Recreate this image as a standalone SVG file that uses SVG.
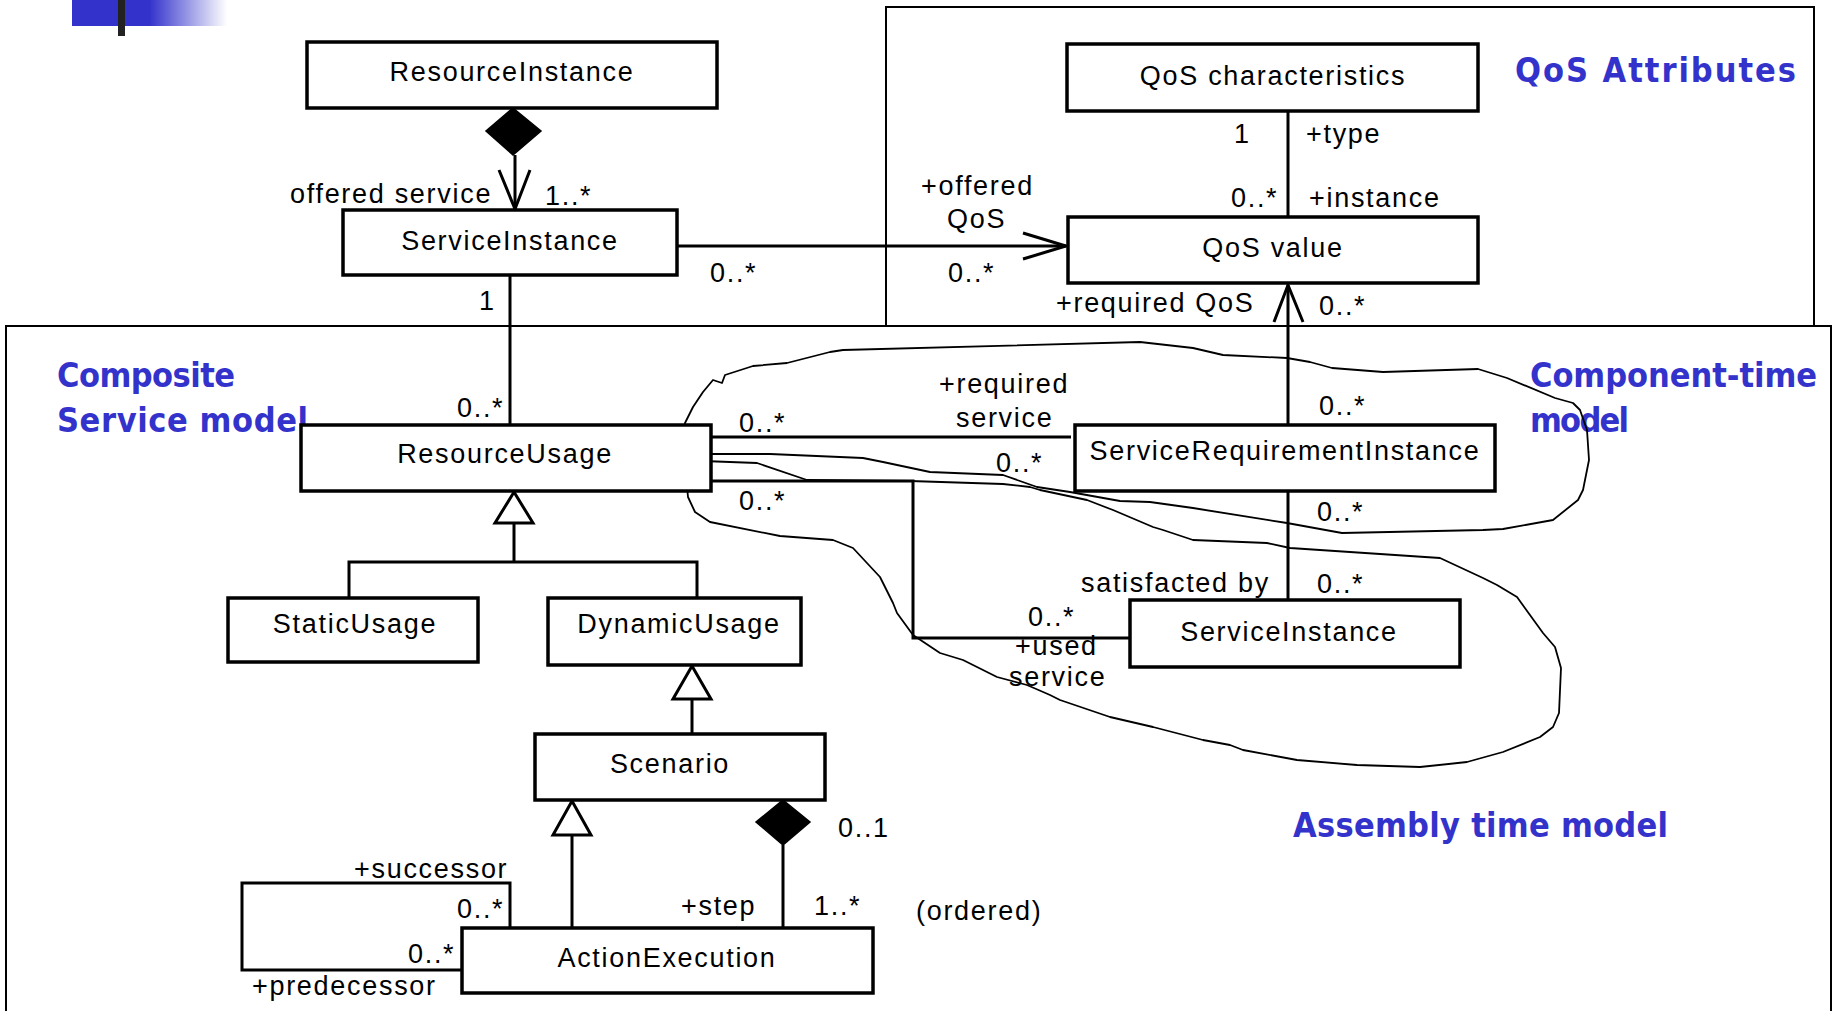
<svg xmlns="http://www.w3.org/2000/svg" width="1834" height="1011" viewBox="0 0 1834 1011">
<style>
.box{fill:#fff;stroke:#000;stroke-width:3.5}
.nt{font-family:"Liberation Sans",Arial,sans-serif;font-size:27px;letter-spacing:1.7px;fill:#000;text-anchor:middle}
.lb{font-family:"Liberation Sans",Arial,sans-serif;font-size:27px;letter-spacing:1.7px;fill:#000}
.ln{fill:none;stroke:#000;stroke-width:3}
.thin{fill:none;stroke:#000;stroke-width:2}
.free{fill:none;stroke:#000;stroke-width:1.8;stroke-linejoin:round}
.hdr{font-family:"DejaVu Sans Condensed","DejaVu Sans",sans-serif;font-stretch:condensed;font-weight:bold;font-size:34px;fill:#3333CC}
.dia{fill:#000;stroke:#000;stroke-width:1.5}
.gen{fill:#fff;stroke:#000;stroke-width:3}
</style>
<defs>
<linearGradient id="hg" x1="0" y1="0" x2="1" y2="0">
<stop offset="0" stop-color="#3333CC"/>
<stop offset="0.5" stop-color="#3333CC"/>
<stop offset="1" stop-color="#3333CC" stop-opacity="0"/>
</linearGradient>
</defs>
<rect width="1834" height="1011" fill="#fff"/>
<g id="header">
<rect x="72" y="0" width="155" height="26" fill="url(#hg)"/>
<rect x="118" y="0" width="7" height="36" fill="#222"/>
</g>
<g id="regions">
<rect x="886" y="7" width="928" height="319" class="thin"/>
<path d="M6,1011 V326 H1831 V1011" class="thin"/>
<text class="hdr" x="1515" y="82" textLength="281" lengthAdjust="spacing">QoS Attributes</text>
<text class="hdr" x="57" y="387" textLength="178" lengthAdjust="spacing">Composite</text>
<text class="hdr" x="57" y="432" textLength="251" lengthAdjust="spacing">Service model</text>
<text class="hdr" x="1530" y="387" textLength="287" lengthAdjust="spacing">Component-time</text>
<text class="hdr" x="1530" y="432" textLength="99" lengthAdjust="spacing">model</text>
<text class="hdr" x="1293" y="837" textLength="375" lengthAdjust="spacing">Assembly time model</text>
</g>
<g id="freehand">
<polyline class="free" points="712,454 700,449 688,445 683,438 685,423 693,407 703,392 713,380 722,383 725,375 753,366 787,363 830,352 843,350 1140,342 1193,348 1223,355 1287,358 1310,362 1332,368 1383,372 1478,369 1507,378 1555,398 1573,403 1580,410 1587,430 1589,460 1583,490 1578,500 1553,520 1503,529 1483,530 1342,533 1287,523 1193,508 1150,502 1120,501 1070,492 1037,487 1003,475 930,472 883,462 863,458 770,454 712,454"/>
<polyline class="free" points="703,461 757,463 807,480 910,481 1003,484 1030,487 1040,490 1087,500 1113,510 1153,527 1163,530 1193,540 1267,543 1290,548 1440,558 1483,578 1497,585 1517,597 1543,633 1555,647 1561,668 1559,713 1553,727 1540,737 1503,752 1467,762 1420,767 1357,765 1297,760 1243,750 1230,745 1203,740 1153,727 1110,717 1060,700 1050,695 1027,685 997,677 963,660 940,653 913,635 897,613 893,603 880,577 853,548 833,540 780,536 710,522 695,512 688,497 687,487 688,473 692,463 703,461"/>
</g>
<g id="connectors">
<line class="ln" x1="515" y1="155" x2="515" y2="209"/>
<polyline class="ln" points="499,170 515,209 530,170"/>
<line class="ln" x1="677" y1="246" x2="1066" y2="246"/>
<polyline class="ln" points="1023,233 1066,246 1023,259"/>
<line class="ln" x1="1288" y1="111" x2="1288" y2="217"/>
<line class="ln" x1="1288" y1="425" x2="1288" y2="285"/>
<polyline class="ln" points="1274,322 1288,285 1303,322"/>
<line class="ln" x1="1288" y1="491" x2="1288" y2="600"/>
<line class="ln" x1="510" y1="275" x2="510" y2="425"/>
<line class="ln" x1="711" y1="437" x2="1071" y2="437"/>
<polyline class="ln" points="711,481 913,481 913,638 1130,638"/>
<line class="ln" x1="514" y1="523" x2="514" y2="562"/>
<polyline class="ln" points="349,598 349,562 697,562 697,598"/>
<line class="ln" x1="692" y1="699" x2="692" y2="734"/>
<line class="ln" x1="572" y1="835" x2="572" y2="928"/>
<line class="ln" x1="783" y1="845" x2="783" y2="928"/>
<polyline class="ln" points="510,928 510,883 242,883 242,970 462,970"/>
<polygon class="dia" points="513,108 541,131 513,155 486,131"/>
<polygon class="dia" points="783,800 810,822 783,845 756,822"/>
<polygon class="gen" points="514,492 533,523 495,523"/>
<polygon class="gen" points="692,666 711,699 673,699"/>
<polygon class="gen" points="572,801 591,835 553,835"/>
</g>
<g id="ResourceInstance"><rect class="box" x="307" y="42" width="410" height="66"/><text class="nt" x="512" y="81">ResourceInstance</text></g>
<g id="ServiceInstance1"><rect class="box" x="343" y="210" width="334" height="65"/><text class="nt" x="510" y="250">ServiceInstance</text></g>
<g id="QoSCharacteristics"><rect class="box" x="1067" y="44" width="411" height="67"/><text class="nt" x="1273" y="85">QoS characteristics</text></g>
<g id="QoSValue"><rect class="box" x="1068" y="217" width="410" height="66"/><text class="nt" x="1273" y="257">QoS value</text></g>
<g id="ResourceUsage"><rect class="box" x="301" y="425" width="410" height="66"/><text class="nt" x="505" y="463">ResourceUsage</text></g>
<g id="ServiceRequirementInstance"><rect class="box" x="1075" y="425" width="420" height="66"/><text class="nt" x="1285" y="460">ServiceRequirementInstance</text></g>
<g id="StaticUsage"><rect class="box" x="228" y="598" width="250" height="64"/><text class="nt" x="355" y="633">StaticUsage</text></g>
<g id="DynamicUsage"><rect class="box" x="548" y="598" width="253" height="67"/><text class="nt" x="679" y="633">DynamicUsage</text></g>
<g id="ServiceInstance2"><rect class="box" x="1130" y="600" width="330" height="67"/><text class="nt" x="1289" y="641">ServiceInstance</text></g>
<g id="Scenario"><rect class="box" x="535" y="734" width="290" height="66"/><text class="nt" x="670" y="773">Scenario</text></g>
<g id="ActionExecution"><rect class="box" x="462" y="928" width="411" height="65"/><text class="nt" x="667" y="967">ActionExecution</text></g>
<g id="labels">
<text class="lb" x="290" y="203">offered service</text>
<text class="lb" x="545" y="205">1..*</text>
<text class="lb" x="710" y="282">0..*</text>
<text class="lb" x="479" y="310">1</text>
<text class="lb" x="921" y="195">+offered</text>
<text class="lb" x="947" y="228">QoS</text>
<text class="lb" x="948" y="282">0..*</text>
<text class="lb" x="1234" y="143">1</text>
<text class="lb" x="1306" y="143">+type</text>
<text class="lb" x="1231" y="207">0..*</text>
<text class="lb" x="1309" y="207">+instance</text>
<text class="lb" x="1056" y="312">+required QoS</text>
<text class="lb" x="1319" y="315">0..*</text>
<text class="lb" x="457" y="417">0..*</text>
<text class="lb" x="739" y="432">0..*</text>
<text class="lb" x="739" y="510">0..*</text>
<text class="lb" x="939" y="393">+required</text>
<text class="lb" x="956" y="427">service</text>
<text class="lb" x="996" y="472">0..*</text>
<text class="lb" x="1319" y="415">0..*</text>
<text class="lb" x="1317" y="521">0..*</text>
<text class="lb" x="1081" y="592">satisfacted by</text>
<text class="lb" x="1317" y="593">0..*</text>
<text class="lb" x="1028" y="626">0..*</text>
<text class="lb" x="1015" y="655">+used</text>
<text class="lb" x="1009" y="686">service</text>
<text class="lb" x="838" y="837">0..1</text>
<text class="lb" x="354" y="878">+successor</text>
<text class="lb" x="457" y="918">0..*</text>
<text class="lb" x="681" y="915">+step</text>
<text class="lb" x="814" y="915">1..*</text>
<text class="lb" x="916" y="920">(ordered)</text>
<text class="lb" x="408" y="963">0..*</text>
<text class="lb" x="252" y="995">+predecessor</text>
</g>
</svg>
